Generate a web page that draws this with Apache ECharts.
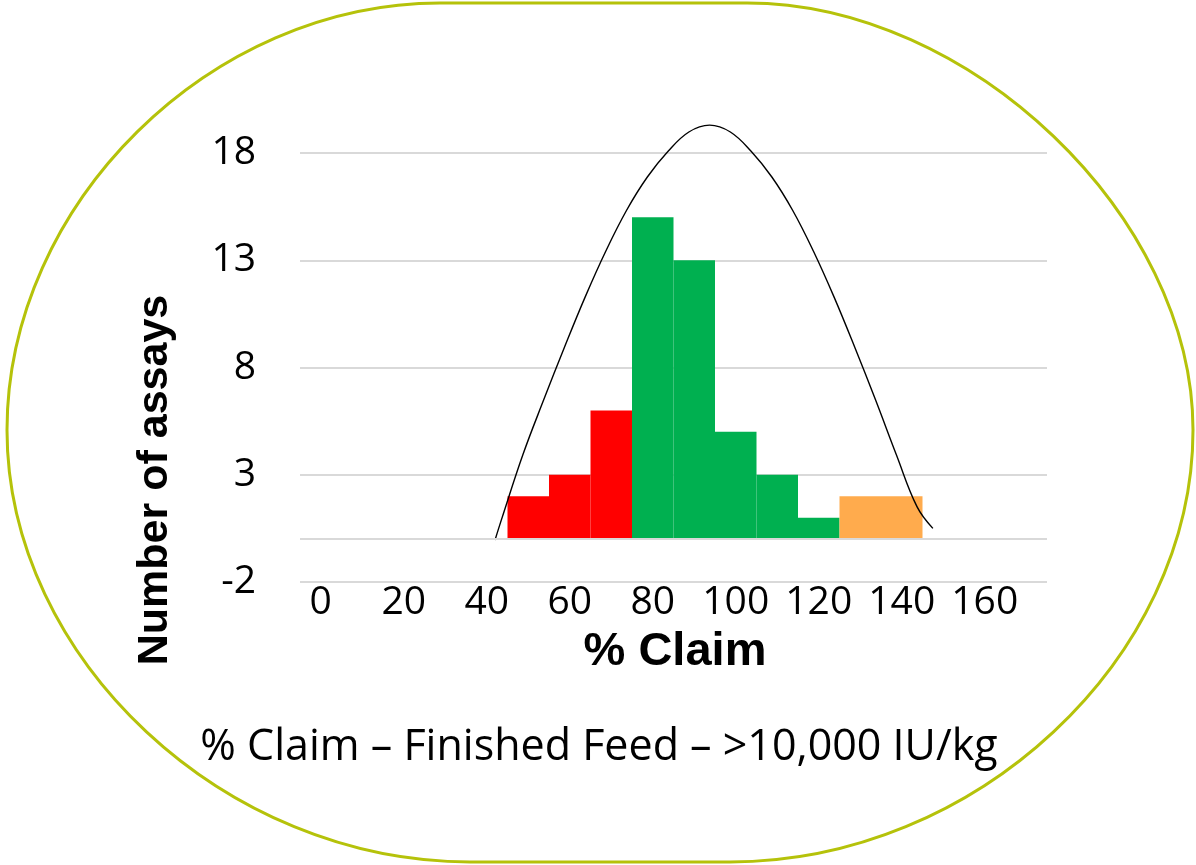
<!DOCTYPE html>
<html>
<head>
<meta charset="utf-8">
<script src="https://cdn.jsdelivr.net/npm/echarts@6/dist/echarts.min.js"></script>
<style>
html,body{margin:0;padding:0;background:#fff;}
#chart{width:1196px;height:865px;}
</style>
</head>
<body>
<div id="chart"></div>
<script>
// ---- data ----
const categories = ['0','10','20','30','40','50','60','70','80','90','100','110','120','130','140','150','160','170'];
const counts     = [null,null,null,null,null,2,3,6,15,13,5,3,1,2,2,null,null,null];
const yTicks     = [-2,3,8,13,18];
// fitted curve: [% claim, count]
const curveX = [42,43.7,48.7,53.7,58.7,63.7,68.7,73.7,78.7,83.7,88.7,93.7,98.7,103.7,108.7,113.7,118.7,123.7,128.7,133.7,138.7,143.7,147.5];
const curveY = [-0.04,1.0,3.93,6.48,8.93,11.28,13.43,15.33,16.88,18.08,18.98,19.3,18.98,18.08,16.88,15.33,13.43,11.28,8.93,6.48,3.93,1.5,0.5];
const titleText = '% Claim \u2013 Finished Feed \u2013 >10,000 IU/kg';
const xName = '% Claim';
const yName = 'Number of assays';

// ---- colour bands by % claim ----
function bandColor(cat){
  const v = Number(cat);
  if (v < 80) return '#ff0000';
  if (v <= 120) return '#00b050';
  return '#ffab4d';
}

const barData = counts.map((c,i)=> c==null ? null : {value:c, itemStyle:{color:bandColor(categories[i])}});
const curveData = curveX.map((x,i)=>[x,curveY[i]]);

// rounded frame made of bezier corners and straight edges
const k = 0.53;
const L=7, R=1193, T=3, B=862, MY=430;
const tl=440, tr=747, bl=470, br=730;
const frameStyle = {stroke:'#b5c20a', lineWidth:3, fill:null};
function bz(x1,y1,c1x,c1y,c2x,c2y,x2,y2){
  return {type:'bezierCurve', silent:true, z:-10,
    shape:{x1:x1,y1:y1,cpx1:c1x,cpy1:c1y,cpx2:c2x,cpy2:c2y,x2:x2,y2:y2}, style:frameStyle};
}
const frame = [
  {type:'line', silent:true, z:-10, shape:{x1:tl,y1:T,x2:tr,y2:T}, style:frameStyle},
  bz(tr,T, tr+0.5*(R-tr),T, R,MY-0.5*(MY-T), R,MY),
  bz(R,MY, R,MY+k*(B-MY), br+k*(R-br),B, br,B),
  {type:'line', silent:true, z:-10, shape:{x1:br,y1:B,x2:bl,y2:B}, style:frameStyle},
  bz(bl,B, bl-k*(bl-L),B, L,MY+k*(B-MY), L,MY),
  bz(L,MY, L,MY-k*(MY-T), tl-k*(tl-L),T, tl,T)
];

const chart = echarts.init(document.getElementById('chart'), null, {renderer:'canvas'});
chart.setOption({
  animation:false,
  backgroundColor:'#ffffff',
  grid:{left:300, right:149, top:153, bottom:283, containLabel:false},
  xAxis:[{
    type:'category', data:categories, position:'bottom',
    axisLine:{show:false}, axisTick:{show:false},
    axisLabel:{interval:1, color:'#000', fontFamily:'Open Sans', fontSize:39, margin:1},
    splitLine:{show:false}
  },{
    type:'value', min:-5, max:175, show:false
  }],
  yAxis:{
    type:'value', min:-2, max:18, interval:5,
    axisLine:{show:false}, axisTick:{show:false},
    axisLabel:{color:'#000', fontFamily:'Open Sans', fontSize:39, margin:44},
    splitLine:{show:true, lineStyle:{color:'#d9d9d9', width:2}}
  },
  series:[{
    type:'bar', data:barData, barCategoryGap:'0%', barGap:'0%',
    xAxisIndex:0, yAxisIndex:0, z:2,
    markLine:{silent:true, symbol:'none', label:{show:false},
      lineStyle:{color:'#d9d9d9', width:2, type:'solid'},
      data:[{yAxis:0}]}
  },{
    type:'line', data:curveData, xAxisIndex:1, yAxisIndex:0,
    showSymbol:false, smooth:0.4, clip:false, z:3,
    lineStyle:{color:'#000', width:1.4}
  }],
  graphic:frame.concat([
    {type:'text', x:675, y:652, style:{text:xName, font:'bold 47px "Liberation Sans"', fill:'#000', textAlign:'center', textVerticalAlign:'middle'}},
    {type:'text', x:155, y:480, rotation:Math.PI/2, style:{text:yName, font:'bold 43px "Liberation Sans"', fill:'#000', textAlign:'center', textVerticalAlign:'middle'}},
    {type:'text', x:599, y:748, style:{text:titleText, font:'43px "Open Sans"', fill:'#000', textAlign:'center', textVerticalAlign:'middle'}}
  ])
});
</script>
</body>
</html>
